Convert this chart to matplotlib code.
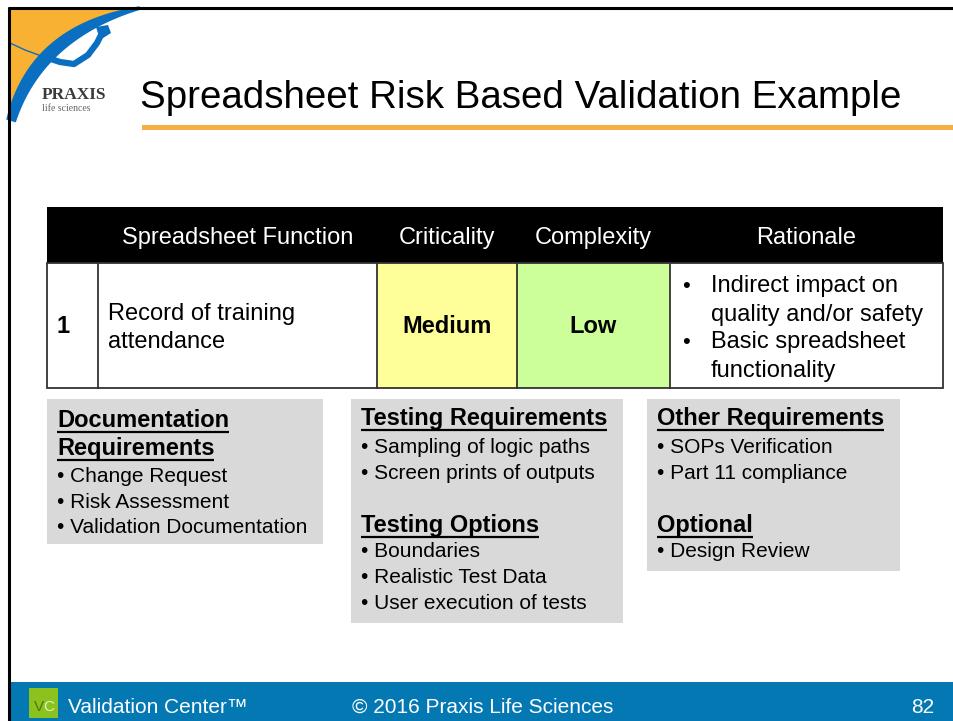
import numpy as np
import matplotlib.pyplot as plt
from matplotlib.patches import Rectangle, Polygon

plt.rcParams['font.family'] = ['Liberation Sans', 'DejaVu Sans']

# slide texts
title = "Spreadsheet Risk Based Validation Example"
header = ["Spreadsheet Function", "Criticality", "Complexity", "Rationale"]
row_id = "1"
function_lines = ["Record of training", "attendance"]
criticality = "Medium"
complexity = "Low"
rationale = [["Indirect impact on", "quality and/or safety"],
             ["Basic spreadsheet", "functionality"]]

doc_title = ["Documentation", "Requirements"]
doc_items = ["Change Request", "Risk Assessment", "Validation Documentation"]
test_req_title = "Testing Requirements"
test_req_items = ["Sampling of logic paths", "Screen prints of outputs"]
test_opt_title = "Testing Options"
test_opt_items = ["Boundaries", "Realistic Test Data", "User execution of tests"]
other_title = "Other Requirements"
other_items = ["SOPs Verification", "Part 11 compliance"]
optional_title = "Optional"
optional_items = ["Design Review"]

footer_left = "Validation Center\u2122"
footer_mid = "\u00a9 2016 Praxis Life Sciences"
page_no = "82"

# canvas in pixel coordinates
fig = plt.figure(figsize=(9.54, 7.21), dpi=100)
ax = fig.add_axes([0, 0, 1, 1])
ax.set_xlim(0, 954)
ax.set_ylim(721, 0)
ax.axis('off')
renderer = fig.canvas.get_renderer()


def underlined(x, y, s, size=17):
    t = ax.text(x, y, s, fontsize=size, fontweight='bold', va='baseline', ha='left')
    bb = t.get_window_extent(renderer=renderer)
    inv = ax.transData.inverted()
    x0 = inv.transform((bb.x0, bb.y0))[0]
    x1 = inv.transform((bb.x1, bb.y0))[0]
    ax.plot([x0, x1], [y + 5, y + 5], color='black', lw=1.6, solid_capstyle='butt')


# --- logo (orange field + blue swoosh) ---
t = np.linspace(0, 1, 60)
p0, p1, p2 = np.array([11, 121]), np.array([36, 32]), np.array([140, 8])
curve = ((1 - t)[:, None] ** 2) * p0 + (2 * t * (1 - t))[:, None] * p1 + (t[:, None] ** 2) * p2
orange = np.vstack([[10, 9], curve[::-1], [10, 121]])
ax.add_patch(Polygon(orange, closed=True, color='#F8B133', lw=0))
d = np.gradient(curve, axis=0)
nrm = np.column_stack([-d[:, 1], d[:, 0]])
nrm /= np.linalg.norm(nrm, axis=1)[:, None]
half = 5 + 2.5 * np.sin(np.pi * t) - 3.2 * t ** 2
swoosh = np.vstack([curve + nrm * half[:, None], (curve - nrm * half[:, None])[::-1]])
ax.add_patch(Polygon(swoosh, closed=True, color='#0A6FC0', lw=0))
ax.plot([10, 25, 44], [43, 50, 57], color='#0A6FC0', lw=1.0)
ax.plot([48, 60, 74, 88, 97, 102], [58, 62, 64, 55, 43, 33], color='#0A6FC0', lw=4.5,
        solid_capstyle='round')
ax.add_patch(Polygon([[96, 27], [108, 25], [111, 33], [100, 40]], closed=True,
                     color='#0A6FC0', lw=0))
ax.text(42, 99, "PRAXIS", family=['Liberation Serif', 'DejaVu Serif'], fontweight='bold',
        fontsize=12.5, color='#3a3a3a', va='baseline', ha='left')
ax.text(42, 111, "life sciences", family=['Liberation Serif', 'DejaVu Serif'],
        fontsize=7, color='#666666', va='baseline', ha='left')

# --- slide frame ---
ax.plot([8, 954], [7.5, 7.5], color='black', lw=2.2, solid_capstyle='butt')

# --- title ---
ax.text(140, 108, title, fontsize=27.75, va='baseline', ha='left', color='black')
ax.add_patch(Rectangle((142, 125), 812, 5, color='#F5B041', lw=0))

# --- table ---
cols = [47, 98, 377, 517, 670, 943]
top, mid, bot = 207, 263, 388
ax.add_patch(Rectangle((cols[0], top), cols[-1] - cols[0], mid - top, color='black', lw=0))
ax.add_patch(Rectangle((cols[2], mid), cols[3] - cols[2], bot - mid, color='#FFFF99', lw=0))
ax.add_patch(Rectangle((cols[3], mid), cols[4] - cols[3], bot - mid, color='#CCFF99', lw=0))
ax.add_patch(Rectangle((cols[0], mid), cols[-1] - cols[0], bot - mid, fill=False,
                       edgecolor='#333333', lw=1.3))
for cx in cols[1:-1]:
    ax.plot([cx, cx], [mid, bot], color='#333333', lw=1.3)

for i, h in enumerate(header):
    ax.text((cols[i + 1] + cols[i + 2]) / 2, 244, h, fontsize=17, color='white',
            ha='center', va='baseline')

ax.text(57, 333, row_id, fontsize=17, fontweight='bold', va='baseline', ha='left')
for k, line in enumerate(function_lines):
    ax.text(108, 320 + 28 * k, line, fontsize=17, va='baseline', ha='left')
ax.text((cols[2] + cols[3]) / 2, 333, criticality, fontsize=17, fontweight='bold',
        ha='center', va='baseline')
ax.text((cols[3] + cols[4]) / 2, 333, complexity, fontsize=17, fontweight='bold',
        ha='center', va='baseline')
ry = [292, 321, 348, 377]
n = 0
for item in rationale:
    ax.text(682, ry[n], "\u2022", fontsize=16, va='baseline', ha='left')
    for line in item:
        ax.text(711, ry[n], line, fontsize=17, va='baseline', ha='left')
        n += 1

# --- grey requirement boxes ---
ax.add_patch(Rectangle((47, 399), 276, 145, color='#D9D9D9', lw=0))
ax.add_patch(Rectangle((351, 399), 272, 224, color='#D9D9D9', lw=0))
ax.add_patch(Rectangle((647, 399), 253, 172, color='#D9D9D9', lw=0))


def bullets(x, y0, items, step=26):
    for k, s in enumerate(items):
        ax.text(x, y0 + step * k, "\u2022 " + s, fontsize=15, va='baseline', ha='left')


underlined(57, 427, doc_title[0])
underlined(57, 455, doc_title[1])
bullets(57, 482, doc_items, step=25.5)

underlined(361, 425, test_req_title)
bullets(361, 453, test_req_items)
underlined(361, 532, test_opt_title)
bullets(361, 557, test_opt_items)

underlined(657, 425, other_title)
bullets(657, 453, other_items)
underlined(657, 532, optional_title)
bullets(657, 557, optional_items)

# --- footer ---
ax.add_patch(Rectangle((9, 682), 945, 39, color='#0378B3', lw=0))
ax.plot([9, 9], [6.5, 721], color='black', lw=2.2, solid_capstyle='butt')
ax.add_patch(Rectangle((29, 688), 29, 30, color='#8CC21E', lw=0))
ax.text(34, 711, "V", fontsize=11, color='#4A7A12', va='baseline', ha='left')
ax.text(43, 711, "C", fontsize=11, color='#E4F2C8', va='baseline', ha='left')
ax.text(68, 713, footer_left, fontsize=15, color='white', va='baseline', ha='left')
ax.text(352, 713, footer_mid, fontsize=15, color='white', va='baseline', ha='left')
ax.text(934, 713, page_no, fontsize=15, color='white', va='baseline', ha='right')

fig.savefig('out.png', dpi=100)
